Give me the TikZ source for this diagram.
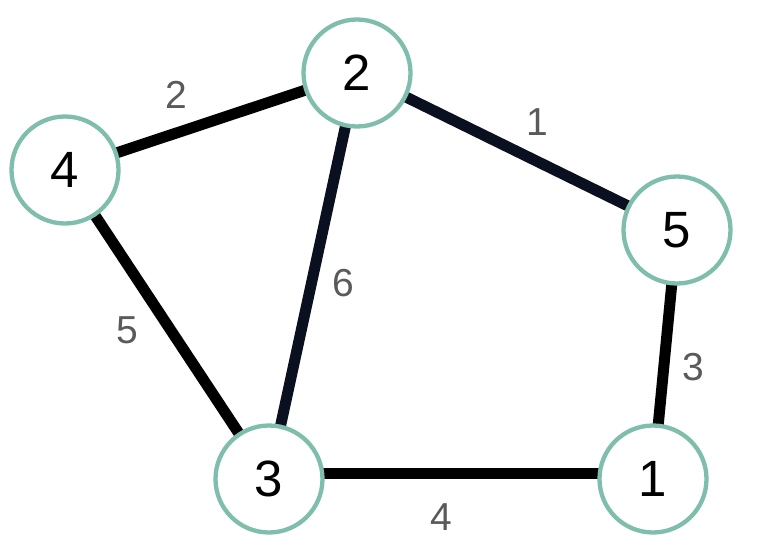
\documentclass[tikz,border=0pt]{standalone}
\usepackage{fontspec}
\setmainfont{Liberation Sans}
\usetikzlibrary{positioning, backgrounds}
\definecolor{NT}{RGB}{127,189,172}
\definecolor{EN}{RGB}{10,16,32}
\definecolor{LG}{RGB}{90,90,90}

\begin{document}
\begin{tikzpicture}[x=1pt, y=-1pt,
  vert/.style={draw=NT, circle, fill=white, line width=4.3pt,
               minimum size=107pt, inner sep=0pt,
               font=\fontsize{51}{51}\selectfont},
  edge/.style={draw=#1, line width=11pt},
  wlab/.style={text=LG, font=\fontsize{39}{39}\selectfont}
]
\useasboundingbox (0,0) rectangle (758,554);

% vertices
\node[vert] (N2) at (357,73)  {2};
\node[vert] (N4) at (65,170)  {4};
\node[vert] (N5) at (677,230) {5};
\node[vert] (N3) at (269,479) {3};
\node[vert] (N1) at (653,479) {1};

% edges
\begin{scope}[on background layer]
\draw[edge=black] (N4.center) -- (N2.center);
\draw[edge=EN]    (N2.center) -- (N5.center);
\draw[edge=EN]    (N2.center) -- (N3.center);
\draw[edge=black] (N4.center) -- (N3.center);
\draw[edge=black] ([yshift=6pt]N3.center) -- ([yshift=6pt]N1.center);
\draw[edge=black] (N5.center) -- (N1.center);
\end{scope}

% weights
\node[wlab] (W42) at (176,95)  {2};
\node[wlab] (W25) at (537,122) {1};
\node[wlab] (W23) at (343,283) {6};
\node[wlab] (W43) at (127,330) {5};
\node[wlab] (W51) at (693,367) {3};
\node[wlab] (W31) at (441,517) {4};
\end{tikzpicture}
\end{document}
